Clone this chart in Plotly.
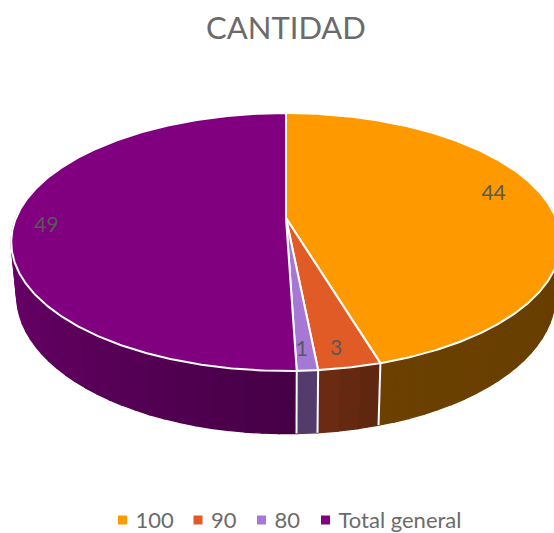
import numpy as np
import plotly.graph_objects as go

categories = ["100", "90", "80", "Total general"]
values = [44, 3, 1, 49]
colors = ["#FF9900", "#E15B27", "#A678D6", "#800080"]
title_text = "CANTIDAD"
label_radius = [0.79, 0.9, 0.9, 0.87]
label_dy = [-9, 0, -1, 7]
label_dx = [1, -6, -3, -4]
legend_swatch_x = [122.5, 198, 261.5, 325.5]
legend_text_gap = 13
legend_y = 520
legend_text_y = 522

W, H = 554, 533
CX, CY = 286, 218
A, B, K = 270, 124.5, 0.186   # perspective of the disc
BOT_CY, BOT_SX, BOT_SY = 270, 0.98, 1.07  # lower rim of the disc
shade_theta = [85, 165, 176, 182, 225, 275]
shade_level = [0.40, 0.42, 0.50, 0.56, 0.72, 0.86]


def project(theta_deg, r=1.0):
    t = np.radians(np.asarray(theta_deg, dtype=float))
    x = r * np.sin(t)
    y = -r * np.cos(t)
    w = 1 - K * y
    return A * x / w, B * y / w


def top(theta_deg, r=1.0):
    u, v = project(theta_deg, r)
    return CX + u, CY + v


def bottom(theta_deg):
    u, v = project(theta_deg)
    return CX + BOT_SX * u, BOT_CY + BOT_SY * v


def scaled(hex_color, f):
    rgb = [int(hex_color[i:i + 2], 16) for i in (1, 3, 5)]
    return "rgb({},{},{})".format(*[int(round(c * f)) for c in rgb])


total = sum(values)
edges = np.concatenate([[0], np.cumsum(values)]) * 360.0 / total
fig = go.Figure()

# side wall, in thin shaded bands
for i, col in enumerate(colors):
    a0, a1 = max(edges[i], 85), min(edges[i + 1], 275)
    if a1 <= a0:
        continue
    n = max(1, int((a1 - a0) / 3))
    cuts = np.linspace(a0, a1, n + 1)
    for c0, c1 in zip(cuts[:-1], cuts[1:]):
        th = np.linspace(c0, c1, 4)
        xt, yt = top(th)
        xb, yb = bottom(th[::-1])
        f = float(np.interp((c0 + c1) / 2, shade_theta, shade_level))
        c = scaled(col, f)
        fig.add_trace(go.Scatter(
            x=np.concatenate([xt, xb, xt[:1]]), y=np.concatenate([yt, yb, yt[:1]]),
            mode="lines", fill="toself", fillcolor=c, line=dict(color=c, width=1.4),
            hoverinfo="skip", showlegend=False))

# white seams on the wall
for e in edges[1:4]:
    xt, yt = top([e])
    xb, yb = bottom([e])
    fig.add_trace(go.Scatter(
        x=[xt[0], xb[0]], y=[yt[0], yb[0]], mode="lines",
        line=dict(color="white", width=2), hoverinfo="skip", showlegend=False))

# top face
for i, col in enumerate(colors):
    th = np.linspace(edges[i], edges[i + 1], max(3, int(values[i] * 8)))
    xt, yt = top(th)
    fig.add_trace(go.Scatter(
        x=np.concatenate([[CX], xt, [CX]]), y=np.concatenate([[CY], yt, [CY]]),
        mode="lines", fill="toself", fillcolor=col,
        line=dict(color="white", width=2),
        name=categories[i], hoverinfo="skip", showlegend=False))

# data labels
mid = (edges[:-1] + edges[1:]) / 2
lx, ly = [], []
for i, m in enumerate(mid):
    px, py = top([m], label_radius[i])
    lx.append(px[0] + label_dx[i])
    ly.append(py[0] + label_dy[i])
fig.add_trace(go.Scatter(
    x=lx, y=ly, mode="text", text=[str(v) for v in values],
    textfont=dict(family="Lato, Carlito, sans-serif", size=21, color="#595959"),
    textposition="middle center", hoverinfo="skip", showlegend=False))

# legend row
fig.add_trace(go.Scatter(
    x=legend_swatch_x, y=[legend_y] * 4, mode="markers",
    marker=dict(symbol="square", size=9, color=colors),
    hoverinfo="skip", showlegend=False))
fig.add_trace(go.Scatter(
    x=[v + legend_text_gap for v in legend_swatch_x], y=[legend_text_y] * 4, mode="text",
    text=categories, textposition="middle right",
    textfont=dict(family="Lato, Carlito, sans-serif", size=22, color="#6b6b6b"),
    hoverinfo="skip", showlegend=False))

fig.update_layout(
    width=W, height=H,
    margin=dict(l=0, r=0, t=0, b=0, autoexpand=False),
    paper_bgcolor="white", plot_bgcolor="white",
    xaxis=dict(range=[0, W], visible=False, fixedrange=True),
    yaxis=dict(range=[H, 0], visible=False, fixedrange=True),
    title=dict(text=title_text, x=286 / W, xanchor="center", y=1 - 28 / H, yanchor="middle",
               font=dict(family="Lato, Carlito, sans-serif", size=31, color="#6b6b6b")),
    showlegend=False,
)
fig.write_html("out.html", config=dict(displayModeBar=False),
               post_script="document.body.style.margin='0';document.documentElement.style.overflow='hidden';")
